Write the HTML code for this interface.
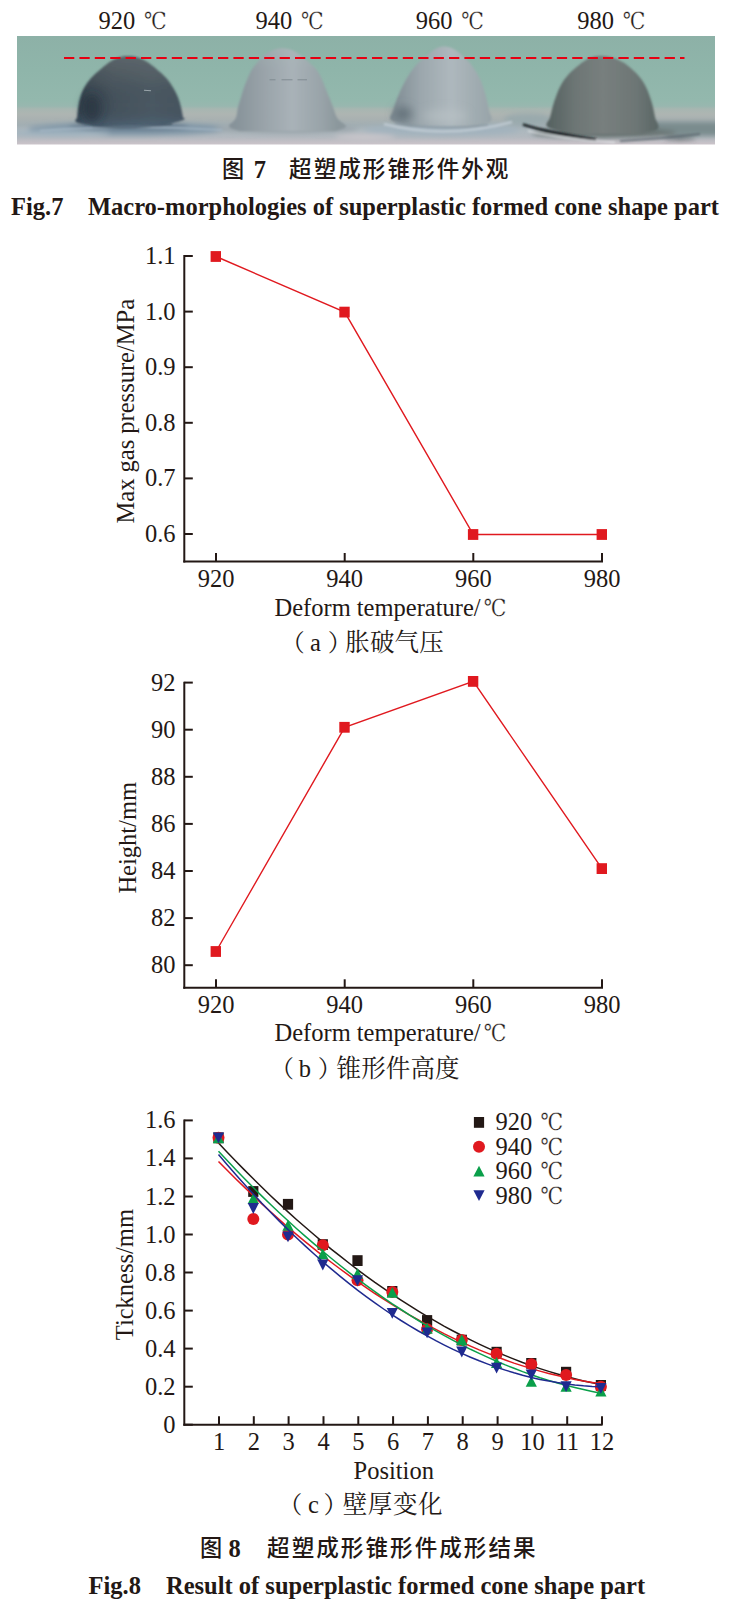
<!DOCTYPE html>
<html lang="zh"><head><meta charset="utf-8"><title>Fig.7 / Fig.8</title>
<style>html,body{margin:0;padding:0;background:#fff}svg{display:block}text{fill:#231815}</style></head>
<body><svg width="729" height="1615" viewBox="0 0 729 1615">
<rect width="729" height="1615" fill="#fff"/>
<defs>
<clipPath id="pc"><rect x="17" y="36" width="698" height="108.6"/></clipPath>
<linearGradient id="bg" x1="0" y1="36" x2="0" y2="145" gradientUnits="userSpaceOnUse"><stop offset="0.0" stop-color="#8db1a7"/><stop offset="0.312" stop-color="#8fb5aa"/><stop offset="0.587" stop-color="#93b8ad"/><stop offset="0.642" stop-color="#98b7af"/><stop offset="0.67" stop-color="#a7b6b1"/><stop offset="0.716" stop-color="#aeb5b2"/><stop offset="0.761" stop-color="#a9b1b1"/><stop offset="0.817" stop-color="#a2aeb3"/><stop offset="0.872" stop-color="#adb8be"/><stop offset="0.927" stop-color="#b3b9bf"/><stop offset="0.963" stop-color="#c0bec4"/><stop offset="1.0" stop-color="#cdc5cb"/></linearGradient>
<filter id="b1" x="-20%" y="-20%" width="140%" height="140%"><feGaussianBlur stdDeviation="1.3"/></filter>
<filter id="b2" x="-20%" y="-50%" width="140%" height="200%"><feGaussianBlur stdDeviation="2.5"/></filter>
<filter id="b3" x="-40%" y="-40%" width="180%" height="180%"><feGaussianBlur stdDeviation="5"/></filter>
<filter id="b05" x="-10%" y="-50%" width="120%" height="200%"><feGaussianBlur stdDeviation="0.7"/></filter>
<linearGradient id="d1" x1="76" y1="0" x2="184" y2="0" gradientUnits="userSpaceOnUse"><stop offset="0" stop-color="#2e3c47"/><stop offset="0.35" stop-color="#44515b"/><stop offset="0.7" stop-color="#4b5963"/><stop offset="1" stop-color="#46545f"/></linearGradient>
<linearGradient id="d1v" x1="0" y1="56" x2="0" y2="126" gradientUnits="userSpaceOnUse"><stop offset="0" stop-color="#666d70" stop-opacity="0.7"/><stop offset="0.35" stop-color="#5c6468" stop-opacity="0.35"/><stop offset="0.7" stop-color="#3a4852" stop-opacity="0"/><stop offset="1" stop-color="#55708a" stop-opacity="0.45"/></linearGradient>
<linearGradient id="d2" x1="236" y1="0" x2="338" y2="0" gradientUnits="userSpaceOnUse"><stop offset="0" stop-color="#87939a"/><stop offset="0.25" stop-color="#98a2a8"/><stop offset="0.55" stop-color="#a9b2b8"/><stop offset="0.85" stop-color="#98a3a8"/><stop offset="1" stop-color="#8b979c"/></linearGradient>
<linearGradient id="d3" x1="391" y1="0" x2="491" y2="0" gradientUnits="userSpaceOnUse"><stop offset="0" stop-color="#7e8b92"/><stop offset="0.3" stop-color="#9ca7ad"/><stop offset="0.6" stop-color="#aeb8bd"/><stop offset="1" stop-color="#98a4a9"/></linearGradient>
<linearGradient id="d4" x1="548" y1="0" x2="658" y2="0" gradientUnits="userSpaceOnUse"><stop offset="0" stop-color="#566261"/><stop offset="0.25" stop-color="#6d7675"/><stop offset="0.5" stop-color="#787f7e"/><stop offset="0.8" stop-color="#6d7675"/><stop offset="1" stop-color="#5a6665"/></linearGradient>
<linearGradient id="topfade" x1="0" y1="44" x2="0" y2="70" gradientUnits="userSpaceOnUse"><stop offset="0" stop-color="#a9bdb8" stop-opacity="0.35"/><stop offset="1" stop-color="#a9bdb8" stop-opacity="0"/></linearGradient>
</defs>
<g clip-path="url(#pc)">
<rect x="17" y="36" width="698" height="109" fill="url(#bg)"/>
<g filter="url(#b2)">
<ellipse cx="128" cy="129" rx="100" ry="6.5" fill="#7f95a6"/>
<ellipse cx="60" cy="133" rx="50" ry="3" fill="#9fb2bf"/>
<ellipse cx="129" cy="126.5" rx="60" ry="3.5" fill="#566b7e" opacity="0.85"/>
<ellipse cx="286" cy="129" rx="72" ry="4" fill="#99a3a9"/>
<ellipse cx="442" cy="130" rx="78" ry="6" fill="#a2b2bd"/>
<rect x="650" y="122" width="80" height="14" fill="#7a8c8e"/><ellipse cx="680" cy="138.5" rx="16" ry="1.2" fill="#3f4a4d"/>
<ellipse cx="604" cy="133" rx="72" ry="5" fill="#66716f"/>
<ellipse cx="528" cy="119" rx="24" ry="6" fill="#93a7ab" opacity="0.7"/>
<ellipse cx="365" cy="137" rx="30" ry="3" fill="#c9c6cb"/>
</g>
<g filter="url(#b1)">
<path d="M100.0,127.0 C96.2,126.2 80.8,124.2 77.0,122.5 C73.2,120.8 77.1,119.3 77.3,116.8 C77.5,114.2 77.7,110.4 78.2,107.2 C78.7,104.0 79.2,100.8 80.2,97.6 C81.2,94.4 82.2,91.2 84.0,88.0 C85.8,84.8 87.8,81.6 90.7,78.4 C93.6,75.2 98.2,71.5 101.3,68.8 C104.4,66.1 107.1,63.9 109.0,62.5 C110.9,61.1 111.6,60.9 112.8,60.2 C114.0,59.5 115.1,59.0 116.3,58.5 C117.5,58.0 118.8,57.6 120.0,57.2 C121.2,56.9 122.1,56.6 123.4,56.4 C124.8,56.2 126.6,56.0 128.2,56.0 C129.8,56.0 131.7,56.2 133.1,56.4 C134.5,56.6 135.5,56.9 136.7,57.2 C137.9,57.6 139.3,58.0 140.5,58.5 C141.7,59.0 142.9,59.5 144.1,60.2 C145.4,60.9 146.0,61.1 148.0,62.5 C150.0,63.9 152.9,66.1 156.0,68.8 C159.1,71.5 163.7,75.2 166.6,78.4 C169.5,81.6 171.4,84.8 173.3,88.0 C175.2,91.2 176.8,94.4 178.1,97.6 C179.4,100.8 180.2,104.0 181.0,107.2 C181.8,110.4 182.5,114.7 182.9,116.8 C183.3,118.9 186.5,118.6 183.5,120.0 C180.5,121.4 168.1,124.2 165.0,125.0 Z" fill="url(#d1)"/><path d="M100.0,127.0 C96.2,126.2 80.8,124.2 77.0,122.5 C73.2,120.8 77.1,119.3 77.3,116.8 C77.5,114.2 77.7,110.4 78.2,107.2 C78.7,104.0 79.2,100.8 80.2,97.6 C81.2,94.4 82.2,91.2 84.0,88.0 C85.8,84.8 87.8,81.6 90.7,78.4 C93.6,75.2 98.2,71.5 101.3,68.8 C104.4,66.1 107.1,63.9 109.0,62.5 C110.9,61.1 111.6,60.9 112.8,60.2 C114.0,59.5 115.1,59.0 116.3,58.5 C117.5,58.0 118.8,57.6 120.0,57.2 C121.2,56.9 122.1,56.6 123.4,56.4 C124.8,56.2 126.6,56.0 128.2,56.0 C129.8,56.0 131.7,56.2 133.1,56.4 C134.5,56.6 135.5,56.9 136.7,57.2 C137.9,57.6 139.3,58.0 140.5,58.5 C141.7,59.0 142.9,59.5 144.1,60.2 C145.4,60.9 146.0,61.1 148.0,62.5 C150.0,63.9 152.9,66.1 156.0,68.8 C159.1,71.5 163.7,75.2 166.6,78.4 C169.5,81.6 171.4,84.8 173.3,88.0 C175.2,91.2 176.8,94.4 178.1,97.6 C179.4,100.8 180.2,104.0 181.0,107.2 C181.8,110.4 182.5,114.7 182.9,116.8 C183.3,118.9 186.5,118.6 183.5,120.0 C180.5,121.4 168.1,124.2 165.0,125.0 Z" fill="url(#d1v)"/>
<path d="M240.0,131.0 C238.2,130.2 229.7,128.6 229.0,126.5 C228.3,124.4 234.1,121.7 235.6,118.5 C237.1,115.3 237.1,110.7 238.0,107.2 C238.9,103.7 239.9,100.8 240.9,97.6 C241.9,94.4 242.7,91.2 243.8,88.0 C244.9,84.8 246.2,81.6 247.6,78.4 C249.0,75.2 250.3,72.0 252.4,68.8 C254.5,65.6 258.0,61.5 260.1,59.2 C262.2,56.9 263.7,55.9 265.1,54.8 C266.5,53.7 267.4,53.2 268.5,52.5 C269.6,51.8 270.6,51.3 271.6,50.8 C272.7,50.3 273.8,49.9 274.9,49.5 C275.9,49.1 276.7,48.9 278.0,48.7 C279.2,48.5 280.8,48.3 282.2,48.3 C283.6,48.3 285.3,48.5 286.6,48.7 C287.9,48.9 288.8,49.1 289.9,49.5 C291.0,49.9 292.2,50.3 293.3,50.8 C294.4,51.3 295.4,51.8 296.5,52.5 C297.7,53.2 298.6,53.7 300.0,54.8 C301.5,55.9 302.7,56.9 305.3,59.2 C307.9,61.5 313.1,65.6 315.8,68.8 C318.5,72.0 320.0,75.2 321.6,78.4 C323.2,81.6 324.1,84.8 325.4,88.0 C326.7,91.2 328.0,94.4 329.3,97.6 C330.6,100.8 331.7,103.7 333.1,107.2 C334.5,110.7 335.4,115.3 337.5,118.5 C339.6,121.7 346.4,124.4 346.0,126.5 C345.6,128.6 336.8,130.2 335.0,131.0 Z" fill="url(#d2)"/><path d="M240.0,131.0 C238.2,130.2 229.7,128.6 229.0,126.5 C228.3,124.4 234.1,121.7 235.6,118.5 C237.1,115.3 237.1,110.7 238.0,107.2 C238.9,103.7 239.9,100.8 240.9,97.6 C241.9,94.4 242.7,91.2 243.8,88.0 C244.9,84.8 246.2,81.6 247.6,78.4 C249.0,75.2 250.3,72.0 252.4,68.8 C254.5,65.6 258.0,61.5 260.1,59.2 C262.2,56.9 263.7,55.9 265.1,54.8 C266.5,53.7 267.4,53.2 268.5,52.5 C269.6,51.8 270.6,51.3 271.6,50.8 C272.7,50.3 273.8,49.9 274.9,49.5 C275.9,49.1 276.7,48.9 278.0,48.7 C279.2,48.5 280.8,48.3 282.2,48.3 C283.6,48.3 285.3,48.5 286.6,48.7 C287.9,48.9 288.8,49.1 289.9,49.5 C291.0,49.9 292.2,50.3 293.3,50.8 C294.4,51.3 295.4,51.8 296.5,52.5 C297.7,53.2 298.6,53.7 300.0,54.8 C301.5,55.9 302.7,56.9 305.3,59.2 C307.9,61.5 313.1,65.6 315.8,68.8 C318.5,72.0 320.0,75.2 321.6,78.4 C323.2,81.6 324.1,84.8 325.4,88.0 C326.7,91.2 328.0,94.4 329.3,97.6 C330.6,100.8 331.7,103.7 333.1,107.2 C334.5,110.7 335.4,115.3 337.5,118.5 C339.6,121.7 346.4,124.4 346.0,126.5 C345.6,128.6 336.8,130.2 335.0,131.0 Z" fill="url(#topfade)"/>
<path d="M410.0,126.0 C406.8,125.0 393.8,122.5 391.0,120.0 C388.2,117.5 392.2,114.2 393.0,111.1 C393.8,108.0 394.8,104.7 395.9,101.5 C397.0,98.3 398.4,95.1 399.8,91.9 C401.2,88.7 402.9,85.4 404.6,82.2 C406.4,79.0 408.1,75.8 410.3,72.6 C412.5,69.4 415.1,65.9 418.0,63.0 C420.9,60.1 425.6,57.1 427.6,55.4 C429.6,53.7 429.1,53.8 430.0,53.0 C430.8,52.2 431.8,51.4 432.7,50.7 C433.6,50.0 434.4,49.5 435.3,49.0 C436.1,48.5 437.1,48.1 437.9,47.7 C438.8,47.4 439.4,47.1 440.4,46.9 C441.4,46.7 442.7,46.5 443.9,46.5 C445.1,46.5 446.7,46.7 447.8,46.9 C448.9,47.1 449.6,47.4 450.6,47.7 C451.6,48.1 452.6,48.5 453.6,49.0 C454.6,49.5 455.5,50.0 456.5,50.7 C457.5,51.4 458.6,52.2 459.5,53.0 C460.5,53.8 460.5,53.7 462.2,55.4 C463.9,57.1 467.5,60.1 469.9,63.0 C472.3,65.9 474.7,69.4 476.6,72.6 C478.5,75.8 480.0,79.0 481.4,82.2 C482.8,85.4 483.7,88.7 484.7,91.9 C485.7,95.1 486.5,98.3 487.2,101.5 C487.9,104.7 488.5,107.8 489.1,111.1 C489.7,114.3 493.4,118.3 491.0,121.0 C488.6,123.7 477.7,126.0 475.0,127.0 Z" fill="url(#d3)"/>
<path d="M570.0,134.0 C566.2,132.8 550.8,129.7 547.5,127.0 C544.2,124.3 549.1,120.9 550.0,117.6 C550.9,114.2 551.6,110.5 552.6,106.9 C553.6,103.3 554.8,99.8 556.1,96.2 C557.5,92.6 558.7,89.1 560.7,85.5 C562.7,81.9 565.0,78.4 568.2,74.8 C571.5,71.2 577.8,66.2 580.2,64.1 C582.6,62.0 581.5,63.0 582.5,62.3 C583.5,61.6 584.9,60.7 586.0,60.0 C587.1,59.3 588.2,58.8 589.3,58.3 C590.4,57.8 591.6,57.4 592.7,57.0 C593.8,56.6 594.6,56.4 595.9,56.2 C597.2,56.0 598.6,55.8 600.3,55.8 C602.0,55.8 604.3,56.0 605.9,56.2 C607.5,56.4 608.6,56.6 610.0,57.0 C611.4,57.4 612.8,57.8 614.2,58.3 C615.6,58.8 616.9,59.3 618.4,60.0 C619.8,60.7 621.6,61.6 622.8,62.3 C624.0,63.0 623.2,62.0 625.7,64.1 C628.2,66.2 634.5,71.2 637.7,74.8 C641.0,78.4 643.2,81.9 645.2,85.5 C647.2,89.1 648.4,92.6 649.7,96.2 C651.0,99.8 652.1,103.3 653.0,106.9 C653.9,110.5 654.3,113.9 655.1,117.6 C655.9,121.3 660.3,126.3 657.8,129.0 C655.3,131.7 643.0,133.2 640.0,134.0 Z" fill="url(#d4)"/>
</g>
<g filter="url(#b3)">
<ellipse cx="92" cy="108" rx="9" ry="14" fill="#25323d" opacity="0.65"/>
<ellipse cx="403" cy="114" rx="9" ry="7" fill="#5d6b74" opacity="0.85"/>
<ellipse cx="445" cy="116" rx="22" ry="6" fill="#bcc4c8" opacity="0.6"/>
</g>
<g filter="url(#b1)">
<path d="M40,131 Q128,124 222,130" stroke="#a5b6c4" stroke-width="2.2" fill="none" opacity="0.85"/>
<path d="M92,126 Q130,129 172,124" stroke="#3f5263" stroke-width="2.5" fill="none" opacity="0.7"/>
<path d="M384,124 Q445,140 512,122" stroke="#c2cdd5" stroke-width="2.4" fill="none" opacity="0.85"/>
<path d="M395,123 Q440,131 488,125" stroke="#84939c" stroke-width="2" fill="none" opacity="0.7"/>
<path d="M523,124.5 Q548,132.5 596,139.5" stroke="#1d2226" stroke-width="2.6" fill="none"/>
<path d="M528,131 Q560,139 615,142.5" stroke="#dfe2e5" stroke-width="1.8" fill="none" opacity="0.85"/>
<path d="M620,141 Q660,139 700,134" stroke="#55626a" stroke-width="2.2" fill="none" opacity="0.75"/>
</g>
<g filter="url(#b05)">
<line x1="144" y1="90.2" x2="151" y2="90.8" stroke="#9aa5ab" stroke-width="1.1"/>
<line x1="269.5" y1="79.8" x2="307" y2="79.8" stroke="#7d888d" stroke-width="0.9" stroke-dasharray="6 6 11 5 14 0"/>
</g>
<line x1="64" y1="58" x2="684.5" y2="58" stroke="#e60012" stroke-width="2" stroke-dasharray="10.3 5.1"/>
</g>
<text y="28.5" font-size="24.5" font-family="'Liberation Serif',serif" font-weight="normal" ><tspan x="98.6" >920 </tspan><tspan x="144.0" font-family="'DejaVu Serif','Noto Serif CJK SC',serif" font-size="23.6" textLength="22.7" lengthAdjust="spacingAndGlyphs" stroke="#fff" stroke-width="0.3">℃</tspan></text>
<text y="28.5" font-size="24.5" font-family="'Liberation Serif',serif" font-weight="normal" ><tspan x="255.5" >940 </tspan><tspan x="300.9" font-family="'DejaVu Serif','Noto Serif CJK SC',serif" font-size="23.6" textLength="22.7" lengthAdjust="spacingAndGlyphs" stroke="#fff" stroke-width="0.3">℃</tspan></text>
<text y="28.5" font-size="24.5" font-family="'Liberation Serif',serif" font-weight="normal" ><tspan x="415.8" >960 </tspan><tspan x="461.2" font-family="'DejaVu Serif','Noto Serif CJK SC',serif" font-size="23.6" textLength="22.7" lengthAdjust="spacingAndGlyphs" stroke="#fff" stroke-width="0.3">℃</tspan></text>
<text y="28.5" font-size="24.5" font-family="'Liberation Serif',serif" font-weight="normal" ><tspan x="577.3" >980 </tspan><tspan x="622.7" font-family="'DejaVu Serif','Noto Serif CJK SC',serif" font-size="23.6" textLength="22.7" lengthAdjust="spacingAndGlyphs" stroke="#fff" stroke-width="0.3">℃</tspan></text>
<text y="177.4" font-size="24.5" font-family="'Liberation Serif',serif" font-weight="normal" ><tspan x="222.1" font-family="'Noto Sans CJK SC','Liberation Sans',sans-serif" font-weight="500" font-size="22.2">图 </tspan><tspan x="253.8" font-weight="bold" dy="1">7　</tspan><tspan x="289.1" font-family="'Noto Sans CJK SC','Liberation Sans',sans-serif" font-weight="500" font-size="22.6" letter-spacing="2" dy="-1">超塑成形锥形件外观</tspan></text>
<text y="214.6" font-size="24.5" font-family="'Liberation Serif',serif" font-weight="bold" ><tspan x="11.1" >Fig.7 </tspan><tspan x="87.9" >Macro-morphologies of superplastic formed cone shape part</tspan></text>
<line x1="184.3" y1="255.0" x2="184.3" y2="562.5" stroke="#231815" stroke-width="2" />
<line x1="183.3" y1="561.5" x2="603.0" y2="561.5" stroke="#231815" stroke-width="2" />
<line x1="184.3" y1="256.0" x2="192.8" y2="256.0" stroke="#231815" stroke-width="2" />
<text x="175.6" y="264.0" text-anchor="end" font-size="24.5" font-family="'Liberation Serif',serif" font-weight="normal" >1.1</text>
<line x1="184.3" y1="311.6" x2="192.8" y2="311.6" stroke="#231815" stroke-width="2" />
<text x="175.6" y="319.6" text-anchor="end" font-size="24.5" font-family="'Liberation Serif',serif" font-weight="normal" >1.0</text>
<line x1="184.3" y1="367.2" x2="192.8" y2="367.2" stroke="#231815" stroke-width="2" />
<text x="175.6" y="375.2" text-anchor="end" font-size="24.5" font-family="'Liberation Serif',serif" font-weight="normal" >0.9</text>
<line x1="184.3" y1="422.8" x2="192.8" y2="422.8" stroke="#231815" stroke-width="2" />
<text x="175.6" y="430.8" text-anchor="end" font-size="24.5" font-family="'Liberation Serif',serif" font-weight="normal" >0.8</text>
<line x1="184.3" y1="478.4" x2="192.8" y2="478.4" stroke="#231815" stroke-width="2" />
<text x="175.6" y="486.4" text-anchor="end" font-size="24.5" font-family="'Liberation Serif',serif" font-weight="normal" >0.7</text>
<line x1="184.3" y1="534.0" x2="192.8" y2="534.0" stroke="#231815" stroke-width="2" />
<text x="175.6" y="542.0" text-anchor="end" font-size="24.5" font-family="'Liberation Serif',serif" font-weight="normal" >0.6</text>
<line x1="216.0" y1="561.5" x2="216.0" y2="553.0" stroke="#231815" stroke-width="2" />
<text x="216.0" y="587.0" text-anchor="middle" font-size="24.5" font-family="'Liberation Serif',serif" font-weight="normal" >920</text>
<line x1="344.7" y1="561.5" x2="344.7" y2="553.0" stroke="#231815" stroke-width="2" />
<text x="344.7" y="587.0" text-anchor="middle" font-size="24.5" font-family="'Liberation Serif',serif" font-weight="normal" >940</text>
<line x1="473.3" y1="561.5" x2="473.3" y2="553.0" stroke="#231815" stroke-width="2" />
<text x="473.3" y="587.0" text-anchor="middle" font-size="24.5" font-family="'Liberation Serif',serif" font-weight="normal" >960</text>
<line x1="602.0" y1="561.5" x2="602.0" y2="553.0" stroke="#231815" stroke-width="2" />
<text x="602.0" y="587.0" text-anchor="middle" font-size="24.5" font-family="'Liberation Serif',serif" font-weight="normal" >980</text>
<polyline fill="none" stroke="#e0191f" stroke-width="1.4" points="216.0,256.5 344.7,312.1 473.3,534.5 602.0,534.5"/>
<rect x="210.6" y="251.1" width="10.4" height="10.8" fill="#e0191f"/>
<rect x="339.3" y="306.7" width="10.4" height="10.8" fill="#e0191f"/>
<rect x="467.9" y="529.1" width="10.4" height="10.8" fill="#e0191f"/>
<rect x="596.6" y="529.1" width="10.4" height="10.8" fill="#e0191f"/>
<text x="133.5" y="523.5" text-anchor="start" font-size="24.5" font-family="'Liberation Serif',serif" font-weight="normal" transform="rotate(-90 133.5 523.5)">Max gas pressure/MPa</text>
<text y="615.7" font-size="24.5" font-family="'Liberation Serif',serif" font-weight="normal" ><tspan x="274.5" >Deform temperature/</tspan><tspan x="483.8" font-family="'DejaVu Serif','Noto Serif CJK SC',serif" font-size="23.6" textLength="22.7" lengthAdjust="spacingAndGlyphs" stroke="#fff" stroke-width="0.3">℃</tspan></text>
<text y="650.6" font-size="24.5" font-family="'Liberation Serif',serif" font-weight="normal" ><tspan x="280.8" font-family="'Noto Serif CJK SC','Liberation Serif',serif" font-size="24">（</tspan><tspan x="310.0" >a</tspan><tspan x="327.7" font-family="'Noto Serif CJK SC','Liberation Serif',serif" font-size="24">）</tspan><tspan x="345.3" font-family="'Noto Serif CJK SC','Liberation Serif',serif" font-size="24.5" letter-spacing="0.15">胀破气压</tspan></text>
<line x1="184.3" y1="681.8" x2="184.3" y2="988.8" stroke="#231815" stroke-width="2" />
<line x1="183.3" y1="987.8" x2="603.0" y2="987.8" stroke="#231815" stroke-width="2" />
<line x1="184.3" y1="682.6" x2="192.8" y2="682.6" stroke="#231815" stroke-width="2" />
<text x="175.6" y="690.6" text-anchor="end" font-size="24.5" font-family="'Liberation Serif',serif" font-weight="normal" >92</text>
<line x1="184.3" y1="729.7" x2="192.8" y2="729.7" stroke="#231815" stroke-width="2" />
<text x="175.6" y="737.7" text-anchor="end" font-size="24.5" font-family="'Liberation Serif',serif" font-weight="normal" >90</text>
<line x1="184.3" y1="776.8" x2="192.8" y2="776.8" stroke="#231815" stroke-width="2" />
<text x="175.6" y="784.8" text-anchor="end" font-size="24.5" font-family="'Liberation Serif',serif" font-weight="normal" >88</text>
<line x1="184.3" y1="823.9" x2="192.8" y2="823.9" stroke="#231815" stroke-width="2" />
<text x="175.6" y="831.9" text-anchor="end" font-size="24.5" font-family="'Liberation Serif',serif" font-weight="normal" >86</text>
<line x1="184.3" y1="871.0" x2="192.8" y2="871.0" stroke="#231815" stroke-width="2" />
<text x="175.6" y="879.0" text-anchor="end" font-size="24.5" font-family="'Liberation Serif',serif" font-weight="normal" >84</text>
<line x1="184.3" y1="918.1" x2="192.8" y2="918.1" stroke="#231815" stroke-width="2" />
<text x="175.6" y="926.1" text-anchor="end" font-size="24.5" font-family="'Liberation Serif',serif" font-weight="normal" >82</text>
<line x1="184.3" y1="965.2" x2="192.8" y2="965.2" stroke="#231815" stroke-width="2" />
<text x="175.6" y="973.2" text-anchor="end" font-size="24.5" font-family="'Liberation Serif',serif" font-weight="normal" >80</text>
<line x1="216.0" y1="987.8" x2="216.0" y2="979.3" stroke="#231815" stroke-width="2" />
<text x="216.0" y="1013.3" text-anchor="middle" font-size="24.5" font-family="'Liberation Serif',serif" font-weight="normal" >920</text>
<line x1="344.7" y1="987.8" x2="344.7" y2="979.3" stroke="#231815" stroke-width="2" />
<text x="344.7" y="1013.3" text-anchor="middle" font-size="24.5" font-family="'Liberation Serif',serif" font-weight="normal" >940</text>
<line x1="473.3" y1="987.8" x2="473.3" y2="979.3" stroke="#231815" stroke-width="2" />
<text x="473.3" y="1013.3" text-anchor="middle" font-size="24.5" font-family="'Liberation Serif',serif" font-weight="normal" >960</text>
<line x1="602.0" y1="987.8" x2="602.0" y2="979.3" stroke="#231815" stroke-width="2" />
<text x="602.0" y="1013.3" text-anchor="middle" font-size="24.5" font-family="'Liberation Serif',serif" font-weight="normal" >980</text>
<polyline fill="none" stroke="#e0191f" stroke-width="1.4" points="216.0,951.5 344.7,727.3 473.3,681.4 602.0,868.6"/>
<rect x="210.6" y="946.1" width="10.4" height="10.8" fill="#e0191f"/>
<rect x="339.3" y="721.9" width="10.4" height="10.8" fill="#e0191f"/>
<rect x="467.9" y="676.0" width="10.4" height="10.8" fill="#e0191f"/>
<rect x="596.6" y="863.2" width="10.4" height="10.8" fill="#e0191f"/>
<text x="135.7" y="893.6" text-anchor="start" font-size="24.5" font-family="'Liberation Serif',serif" font-weight="normal" transform="rotate(-90 135.7 893.6)">Height/mm</text>
<text y="1041.3" font-size="24.5" font-family="'Liberation Serif',serif" font-weight="normal" ><tspan x="274.5" >Deform temperature/</tspan><tspan x="483.8" font-family="'DejaVu Serif','Noto Serif CJK SC',serif" font-size="23.6" textLength="22.7" lengthAdjust="spacingAndGlyphs" stroke="#fff" stroke-width="0.3">℃</tspan></text>
<text y="1076.9" font-size="24.5" font-family="'Liberation Serif',serif" font-weight="normal" ><tspan x="270.1" font-family="'Noto Serif CJK SC','Liberation Serif',serif" font-size="24">（</tspan><tspan x="298.8" >b</tspan><tspan x="317.8" font-family="'Noto Serif CJK SC','Liberation Serif',serif" font-size="24">）</tspan><tspan x="336.5" font-family="'Noto Serif CJK SC','Liberation Serif',serif" font-size="24.5" letter-spacing="0.15">锥形件高度</tspan></text>
<line x1="184.3" y1="1119.4" x2="184.3" y2="1425.7" stroke="#231815" stroke-width="2" />
<line x1="183.3" y1="1424.7" x2="602.6" y2="1424.7" stroke="#231815" stroke-width="2" />
<line x1="184.3" y1="1120.4" x2="192.8" y2="1120.4" stroke="#231815" stroke-width="2" />
<text x="175.6" y="1128.4" text-anchor="end" font-size="24.5" font-family="'Liberation Serif',serif" font-weight="normal" >1.6</text>
<line x1="184.3" y1="1158.4" x2="192.8" y2="1158.4" stroke="#231815" stroke-width="2" />
<text x="175.6" y="1166.4" text-anchor="end" font-size="24.5" font-family="'Liberation Serif',serif" font-weight="normal" >1.4</text>
<line x1="184.3" y1="1196.5" x2="192.8" y2="1196.5" stroke="#231815" stroke-width="2" />
<text x="175.6" y="1204.5" text-anchor="end" font-size="24.5" font-family="'Liberation Serif',serif" font-weight="normal" >1.2</text>
<line x1="184.3" y1="1234.5" x2="192.8" y2="1234.5" stroke="#231815" stroke-width="2" />
<text x="175.6" y="1242.5" text-anchor="end" font-size="24.5" font-family="'Liberation Serif',serif" font-weight="normal" >1.0</text>
<line x1="184.3" y1="1272.5" x2="192.8" y2="1272.5" stroke="#231815" stroke-width="2" />
<text x="175.6" y="1280.5" text-anchor="end" font-size="24.5" font-family="'Liberation Serif',serif" font-weight="normal" >0.8</text>
<line x1="184.3" y1="1310.6" x2="192.8" y2="1310.6" stroke="#231815" stroke-width="2" />
<text x="175.6" y="1318.6" text-anchor="end" font-size="24.5" font-family="'Liberation Serif',serif" font-weight="normal" >0.6</text>
<line x1="184.3" y1="1348.6" x2="192.8" y2="1348.6" stroke="#231815" stroke-width="2" />
<text x="175.6" y="1356.6" text-anchor="end" font-size="24.5" font-family="'Liberation Serif',serif" font-weight="normal" >0.4</text>
<line x1="184.3" y1="1386.7" x2="192.8" y2="1386.7" stroke="#231815" stroke-width="2" />
<text x="175.6" y="1394.7" text-anchor="end" font-size="24.5" font-family="'Liberation Serif',serif" font-weight="normal" >0.2</text>
<line x1="184.3" y1="1424.7" x2="192.8" y2="1424.7" stroke="#231815" stroke-width="2" />
<text x="175.6" y="1432.7" text-anchor="end" font-size="24.5" font-family="'Liberation Serif',serif" font-weight="normal" >0</text>
<line x1="219.0" y1="1424.7" x2="219.0" y2="1416.2" stroke="#231815" stroke-width="2" />
<text x="219.0" y="1450.2" text-anchor="middle" font-size="24.5" font-family="'Liberation Serif',serif" font-weight="normal" >1</text>
<line x1="253.8" y1="1424.7" x2="253.8" y2="1416.2" stroke="#231815" stroke-width="2" />
<text x="253.8" y="1450.2" text-anchor="middle" font-size="24.5" font-family="'Liberation Serif',serif" font-weight="normal" >2</text>
<line x1="288.6" y1="1424.7" x2="288.6" y2="1416.2" stroke="#231815" stroke-width="2" />
<text x="288.6" y="1450.2" text-anchor="middle" font-size="24.5" font-family="'Liberation Serif',serif" font-weight="normal" >3</text>
<line x1="323.5" y1="1424.7" x2="323.5" y2="1416.2" stroke="#231815" stroke-width="2" />
<text x="323.5" y="1450.2" text-anchor="middle" font-size="24.5" font-family="'Liberation Serif',serif" font-weight="normal" >4</text>
<line x1="358.3" y1="1424.7" x2="358.3" y2="1416.2" stroke="#231815" stroke-width="2" />
<text x="358.3" y="1450.2" text-anchor="middle" font-size="24.5" font-family="'Liberation Serif',serif" font-weight="normal" >5</text>
<line x1="393.1" y1="1424.7" x2="393.1" y2="1416.2" stroke="#231815" stroke-width="2" />
<text x="393.1" y="1450.2" text-anchor="middle" font-size="24.5" font-family="'Liberation Serif',serif" font-weight="normal" >6</text>
<line x1="427.9" y1="1424.7" x2="427.9" y2="1416.2" stroke="#231815" stroke-width="2" />
<text x="427.9" y="1450.2" text-anchor="middle" font-size="24.5" font-family="'Liberation Serif',serif" font-weight="normal" >7</text>
<line x1="462.7" y1="1424.7" x2="462.7" y2="1416.2" stroke="#231815" stroke-width="2" />
<text x="462.7" y="1450.2" text-anchor="middle" font-size="24.5" font-family="'Liberation Serif',serif" font-weight="normal" >8</text>
<line x1="497.6" y1="1424.7" x2="497.6" y2="1416.2" stroke="#231815" stroke-width="2" />
<text x="497.6" y="1450.2" text-anchor="middle" font-size="24.5" font-family="'Liberation Serif',serif" font-weight="normal" >9</text>
<line x1="532.4" y1="1424.7" x2="532.4" y2="1416.2" stroke="#231815" stroke-width="2" />
<text x="532.4" y="1450.2" text-anchor="middle" font-size="24.5" font-family="'Liberation Serif',serif" font-weight="normal" >10</text>
<line x1="567.2" y1="1424.7" x2="567.2" y2="1416.2" stroke="#231815" stroke-width="2" />
<text x="567.2" y="1450.2" text-anchor="middle" font-size="24.5" font-family="'Liberation Serif',serif" font-weight="normal" >11</text>
<line x1="602.0" y1="1424.7" x2="602.0" y2="1416.2" stroke="#231815" stroke-width="2" />
<text x="602.0" y="1450.2" text-anchor="middle" font-size="24.5" font-family="'Liberation Serif',serif" font-weight="normal" >12</text>
<rect x="213.4" y="1132.4" width="10.2" height="10.8" fill="#231815"/>
<rect x="248.2" y="1186.1" width="10.2" height="10.8" fill="#231815"/>
<rect x="282.9" y="1198.9" width="10.2" height="10.8" fill="#231815"/>
<rect x="317.7" y="1239.2" width="10.2" height="10.8" fill="#231815"/>
<rect x="352.4" y="1255.2" width="10.2" height="10.8" fill="#231815"/>
<rect x="387.2" y="1286.0" width="10.2" height="10.8" fill="#231815"/>
<rect x="422.0" y="1315.1" width="10.2" height="10.8" fill="#231815"/>
<rect x="456.7" y="1334.7" width="10.2" height="10.8" fill="#231815"/>
<rect x="491.5" y="1346.8" width="10.2" height="10.8" fill="#231815"/>
<rect x="526.2" y="1358.0" width="10.2" height="10.8" fill="#231815"/>
<rect x="561.0" y="1366.8" width="10.2" height="10.8" fill="#231815"/>
<rect x="595.8" y="1380.0" width="10.2" height="10.8" fill="#231815"/>
<polyline fill="none" stroke="#231815" stroke-width="1.5" points="218.5,1143.0 227.2,1152.2 235.9,1161.3 244.6,1170.1 253.3,1178.8 261.9,1187.3 270.6,1195.7 279.3,1203.9 288.0,1211.9 296.7,1219.7 305.4,1227.3 314.1,1234.8 322.8,1242.1 331.5,1249.3 340.2,1256.2 348.9,1263.0 357.5,1269.6 366.2,1276.1 374.9,1282.4 383.6,1288.4 392.3,1294.4 401.0,1300.1 409.7,1305.7 418.4,1311.1 427.1,1316.3 435.8,1321.4 444.4,1326.3 453.1,1331.0 461.8,1335.5 470.5,1339.9 479.2,1344.1 487.9,1348.1 496.6,1352.0 505.3,1355.6 514.0,1359.1 522.6,1362.5 531.3,1365.6 540.0,1368.6 548.7,1371.4 557.4,1374.0 566.1,1376.5 574.8,1378.8 583.5,1380.9 592.2,1382.8 600.9,1384.6"/>
<circle cx="218.5" cy="1137.8" r="6" fill="#e0191f"/>
<circle cx="253.3" cy="1218.9" r="6" fill="#e0191f"/>
<circle cx="288.0" cy="1234.4" r="6" fill="#e0191f"/>
<circle cx="322.8" cy="1245.3" r="6" fill="#e0191f"/>
<circle cx="357.5" cy="1280.3" r="6" fill="#e0191f"/>
<circle cx="392.3" cy="1292.0" r="6" fill="#e0191f"/>
<circle cx="427.1" cy="1329.2" r="6" fill="#e0191f"/>
<circle cx="461.8" cy="1340.0" r="6" fill="#e0191f"/>
<circle cx="496.6" cy="1353.7" r="6" fill="#e0191f"/>
<circle cx="531.3" cy="1364.2" r="6" fill="#e0191f"/>
<circle cx="566.1" cy="1375.0" r="6" fill="#e0191f"/>
<circle cx="600.9" cy="1386.8" r="6" fill="#e0191f"/>
<polyline fill="none" stroke="#e0191f" stroke-width="1.5" points="218.5,1161.5 227.2,1170.3 235.9,1179.0 244.6,1187.4 253.3,1195.7 261.9,1203.9 270.6,1211.8 279.3,1219.6 288.0,1227.2 296.7,1234.6 305.4,1241.8 314.1,1248.9 322.8,1255.8 331.5,1262.5 340.2,1269.0 348.9,1275.4 357.5,1281.6 366.2,1287.6 374.9,1293.5 383.6,1299.1 392.3,1304.6 401.0,1309.9 409.7,1315.1 418.4,1320.0 427.1,1324.8 435.8,1329.4 444.4,1333.9 453.1,1338.1 461.8,1342.2 470.5,1346.1 479.2,1349.9 487.9,1353.4 496.6,1356.8 505.3,1360.0 514.0,1363.1 522.6,1365.9 531.3,1368.6 540.0,1371.1 548.7,1373.5 557.4,1375.6 566.1,1377.6 574.8,1379.4 583.5,1381.1 592.2,1382.5 600.9,1383.8"/>
<polygon points="212.9,1143.2 224.1,1143.2 218.5,1132.3" fill="#0a9f4a"/>
<polygon points="247.7,1203.8 258.9,1203.8 253.3,1192.9" fill="#0a9f4a"/>
<polygon points="282.4,1230.7 293.6,1230.7 288.0,1219.8" fill="#0a9f4a"/>
<polygon points="317.2,1259.3 328.4,1259.3 322.8,1248.4" fill="#0a9f4a"/>
<polygon points="351.9,1279.1 363.1,1279.1 357.5,1268.2" fill="#0a9f4a"/>
<polygon points="386.7,1297.8 397.9,1297.8 392.3,1286.9" fill="#0a9f4a"/>
<polygon points="421.5,1333.7 432.7,1333.7 427.1,1322.8" fill="#0a9f4a"/>
<polygon points="456.2,1345.1 467.4,1345.1 461.8,1334.2" fill="#0a9f4a"/>
<polygon points="491.0,1368.0 502.2,1368.0 496.6,1357.1" fill="#0a9f4a"/>
<polygon points="525.7,1386.8 536.9,1386.8 531.3,1375.9" fill="#0a9f4a"/>
<polygon points="560.5,1391.7 571.7,1391.7 566.1,1380.8" fill="#0a9f4a"/>
<polygon points="595.3,1396.6 606.5,1396.6 600.9,1385.7" fill="#0a9f4a"/>
<polyline fill="none" stroke="#0a9f4a" stroke-width="1.5" points="218.5,1151.3 227.2,1160.6 235.9,1169.7 244.6,1178.7 253.3,1187.5 261.9,1196.1 270.6,1204.5 279.3,1212.7 288.0,1220.8 296.7,1228.7 305.4,1236.4 314.1,1243.9 322.8,1251.3 331.5,1258.5 340.2,1265.5 348.9,1272.3 357.5,1278.9 366.2,1285.4 374.9,1291.7 383.6,1297.8 392.3,1303.8 401.0,1309.5 409.7,1315.1 418.4,1320.5 427.1,1325.8 435.8,1330.8 444.4,1335.7 453.1,1340.4 461.8,1344.9 470.5,1349.3 479.2,1353.4 487.9,1357.4 496.6,1361.2 505.3,1364.9 514.0,1368.3 522.6,1371.6 531.3,1374.7 540.0,1377.7 548.7,1380.4 557.4,1383.0 566.1,1385.4 574.8,1387.6 583.5,1389.6 592.2,1391.5 600.9,1393.2"/>
<polygon points="212.9,1132.4 224.1,1132.4 218.5,1143.3" fill="#1f2a8f"/>
<polygon points="247.7,1203.1 258.9,1203.1 253.3,1214.0" fill="#1f2a8f"/>
<polygon points="282.4,1231.4 293.6,1231.4 288.0,1242.3" fill="#1f2a8f"/>
<polygon points="317.2,1259.6 328.4,1259.6 322.8,1270.5" fill="#1f2a8f"/>
<polygon points="351.9,1275.3 363.1,1275.3 357.5,1286.2" fill="#1f2a8f"/>
<polygon points="386.7,1307.9 397.9,1307.9 392.3,1318.8" fill="#1f2a8f"/>
<polygon points="421.5,1327.4 432.7,1327.4 427.1,1338.3" fill="#1f2a8f"/>
<polygon points="456.2,1346.6 467.4,1346.6 461.8,1357.5" fill="#1f2a8f"/>
<polygon points="491.0,1362.7 502.2,1362.7 496.6,1373.6" fill="#1f2a8f"/>
<polygon points="525.7,1369.6 536.9,1369.6 531.3,1380.5" fill="#1f2a8f"/>
<polygon points="560.5,1381.2 571.7,1381.2 566.1,1392.1" fill="#1f2a8f"/>
<polygon points="595.3,1382.9 606.5,1382.9 600.9,1393.8" fill="#1f2a8f"/>
<polyline fill="none" stroke="#1f2a8f" stroke-width="1.5" points="218.5,1154.6 227.2,1164.8 235.9,1174.7 244.6,1184.4 253.3,1193.9 261.9,1203.2 270.6,1212.2 279.3,1221.1 288.0,1229.6 296.7,1238.0 305.4,1246.1 314.1,1254.0 322.8,1261.7 331.5,1269.1 340.2,1276.3 348.9,1283.3 357.5,1290.1 366.2,1296.6 374.9,1302.9 383.6,1309.0 392.3,1314.8 401.0,1320.5 409.7,1325.8 418.4,1331.0 427.1,1335.9 435.8,1340.7 444.4,1345.1 453.1,1349.4 461.8,1353.4 470.5,1357.2 479.2,1360.8 487.9,1364.1 496.6,1367.2 505.3,1370.1 514.0,1372.8 522.6,1375.2 531.3,1377.4 540.0,1379.4 548.7,1381.1 557.4,1382.6 566.1,1383.9 574.8,1385.0 583.5,1385.8 592.2,1386.4 600.9,1386.8"/>
<rect x="473.9" y="1117.0" width="10.2" height="10.8" fill="#231815"/>
<text y="1130.4" font-size="24.5" font-family="'Liberation Serif',serif" font-weight="normal" ><tspan x="495.6" >920 </tspan><tspan x="540.5" font-family="'DejaVu Serif','Noto Serif CJK SC',serif" font-size="23.6" textLength="22.7" lengthAdjust="spacingAndGlyphs" stroke="#fff" stroke-width="0.3">℃</tspan></text>
<circle cx="479.0" cy="1146.8" r="6" fill="#e0191f"/>
<text y="1154.8" font-size="24.5" font-family="'Liberation Serif',serif" font-weight="normal" ><tspan x="495.6" >940 </tspan><tspan x="540.5" font-family="'DejaVu Serif','Noto Serif CJK SC',serif" font-size="23.6" textLength="22.7" lengthAdjust="spacingAndGlyphs" stroke="#fff" stroke-width="0.3">℃</tspan></text>
<polygon points="473.4,1176.6 484.6,1176.6 479.0,1165.7" fill="#0a9f4a"/>
<text y="1179.2" font-size="24.5" font-family="'Liberation Serif',serif" font-weight="normal" ><tspan x="495.6" >960 </tspan><tspan x="540.5" font-family="'DejaVu Serif','Noto Serif CJK SC',serif" font-size="23.6" textLength="22.7" lengthAdjust="spacingAndGlyphs" stroke="#fff" stroke-width="0.3">℃</tspan></text>
<polygon points="473.4,1190.2 484.6,1190.2 479.0,1201.1" fill="#1f2a8f"/>
<text y="1203.6" font-size="24.5" font-family="'Liberation Serif',serif" font-weight="normal" ><tspan x="495.6" >980 </tspan><tspan x="540.5" font-family="'DejaVu Serif','Noto Serif CJK SC',serif" font-size="23.6" textLength="22.7" lengthAdjust="spacingAndGlyphs" stroke="#fff" stroke-width="0.3">℃</tspan></text>
<text x="132.7" y="1340.2" text-anchor="start" font-size="24.5" font-family="'Liberation Serif',serif" font-weight="normal" transform="rotate(-90 132.7 1340.2)">Tickness/mm</text>
<text x="353.6" y="1479.0" text-anchor="start" font-size="24.5" font-family="'Liberation Serif',serif" font-weight="normal" >Position</text>
<text y="1513.2" font-size="24.5" font-family="'Liberation Serif',serif" font-weight="normal" ><tspan x="278.2" font-family="'Noto Serif CJK SC','Liberation Serif',serif" font-size="24">（</tspan><tspan x="308.1" >c</tspan><tspan x="323.4" font-family="'Noto Serif CJK SC','Liberation Serif',serif" font-size="24">）</tspan><tspan x="342.7" font-family="'Noto Serif CJK SC','Liberation Serif',serif" font-size="24.5" letter-spacing="0.6">壁厚变化</tspan></text>
<text y="1556.2" font-size="24.5" font-family="'Liberation Serif',serif" font-weight="normal" ><tspan x="200.0" font-family="'Noto Sans CJK SC','Liberation Sans',sans-serif" font-weight="500" font-size="22.2">图 </tspan><tspan x="228.5" font-weight="bold" dy="1">8　</tspan><tspan x="267.1" font-family="'Noto Sans CJK SC','Liberation Sans',sans-serif" font-weight="500" font-size="22.6" letter-spacing="2" dy="-1">超塑成形锥形件成形结果</tspan></text>
<text y="1593.8" font-size="24.5" font-family="'Liberation Serif',serif" font-weight="bold" ><tspan x="88.6" >Fig.8 </tspan><tspan x="166.0" >Result of superplastic formed cone shape part</tspan></text>
</svg></body></html>
